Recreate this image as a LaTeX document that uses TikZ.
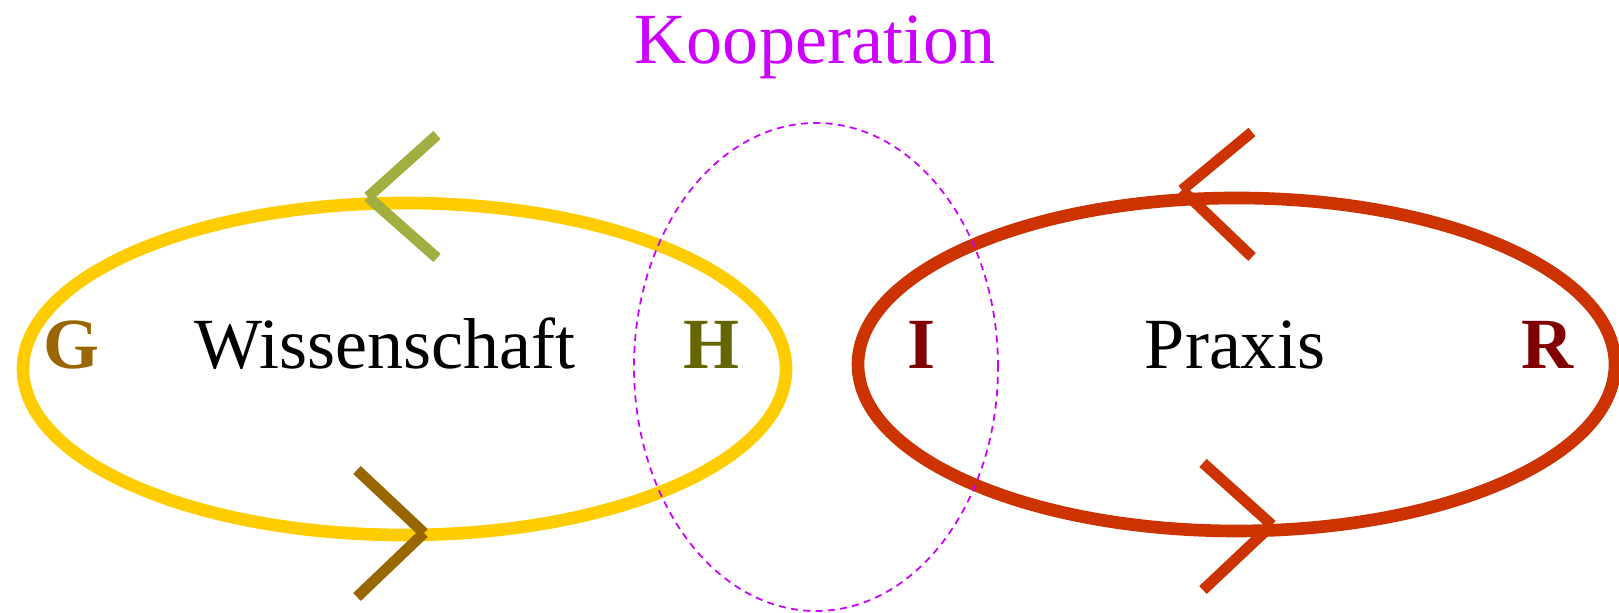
\documentclass[tikz,border=0pt]{standalone}
\usepackage{fontspec}
\setmainfont{Liberation Serif}
\usepackage{tikz}
\usepackage{xcolor}
\definecolor{gelb}{HTML}{FFCC00}
\definecolor{oliv}{HTML}{A3AE40}
\definecolor{braun}{HTML}{996600}
\definecolor{rot}{HTML}{CC3300}
\definecolor{dunkeloliv}{HTML}{666600}
\definecolor{dunkelrot}{HTML}{800000}
\definecolor{lila}{HTML}{CC00FF}

\begin{document}
\begin{tikzpicture}[
  txt/.style={anchor=base, inner sep=0pt, font=\fontsize{20.5}{24}\selectfont},
  buchst/.style={txt, font=\fontsize{20.5}{24}\selectfont\bfseries},
  ring/.style={line width=3.6pt},
  pfeil/.style={line width=3.1pt}]
\useasboundingbox (0,0) rectangle (16.19,6.13);
% Wissenschaft
\draw[ring, gelb] (4.045,2.44) ellipse (3.815 and 1.66);
% Praxis
\draw[ring, rot] (12.365,2.485) ellipse (3.785 and 1.665);
% Pfeile links
\coordinate (lo) at (3.68,4.16);
\coordinate (lu) at (4.24,0.80);
\draw[pfeil, oliv] (4.37,4.78) -- (lo);
\draw[pfeil, oliv] (4.37,3.55) -- (lo);
\draw[pfeil, braun] (3.57,1.43) -- (lu);
\draw[pfeil, braun] (3.57,0.16) -- (lu);
% Pfeile rechts
\coordinate (ro) at (11.82,4.23);
\coordinate (ru) at (12.72,0.88);
\draw[pfeil, rot] (12.52,4.81) -- (ro);
\draw[pfeil, rot] (12.52,3.56) -- (ro);
\draw[pfeil, rot] (12.03,1.50) -- (ru);
\draw[pfeil, rot] (12.03,0.23) -- (ru);
% Kooperation
\draw[lila, line width=0.5pt, dash pattern=on 2pt off 1.5pt] (8.16,2.46) ellipse (1.82 and 2.44);
\node[txt, lila] (koop) at (8.15,5.49) {Kooperation};
% Texte
\node[txt] (wiss) at (3.85,2.44) {Wissenschaft};
\node[txt] (praxis) at (12.35,2.44) {Praxis};
\node[buchst, braun] (g) at (0.715,2.44) {G};
\node[buchst, dunkeloliv] (h) at (7.12,2.44) {H};
\node[buchst, dunkelrot] (i) at (9.22,2.44) {I};
\node[buchst, dunkelrot] (r) at (15.47,2.44) {R};
\end{tikzpicture}
\end{document}
